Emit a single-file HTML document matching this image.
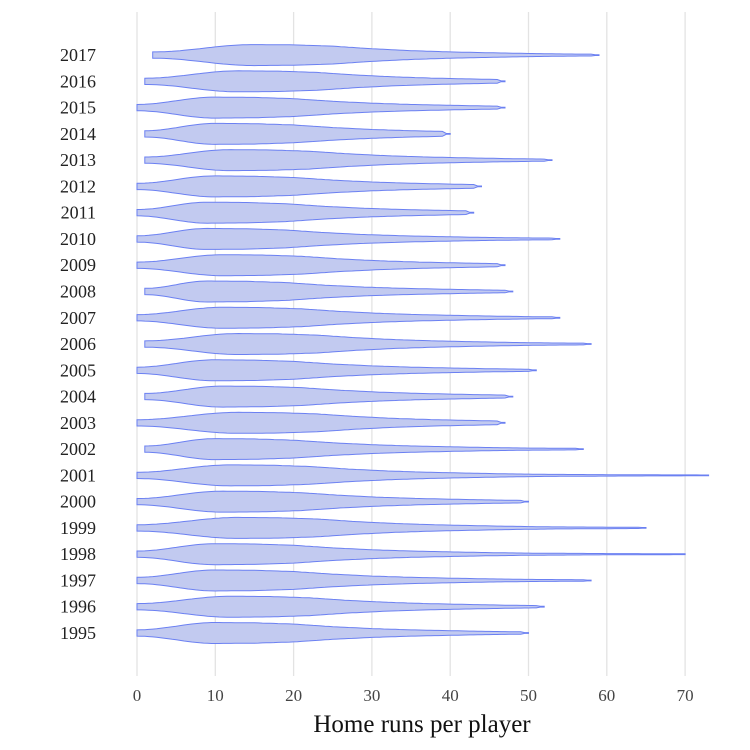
<!DOCTYPE html>
<html><head><meta charset="utf-8"><style>
body{margin:0;background:#fff}
svg{display:block;font-family:"Liberation Serif",serif}
</style></head><body>
<svg id="chart" width="750" height="750">
<g id="grid"></g><g id="violins"></g><g id="ylab"></g><g id="xlab"></g>
<text x="422" y="732" font-size="25" text-anchor="middle" fill="#111">Home runs per player</text>
</svg>
<script>
const years=[1995,1996,1997,1998,1999,2000,2001,2002,2003,2004,2005,2006,2007,2008,2009,2010,2011,2012,2013,2014,2015,2016,2017];
const mins=[0,0,0,0,0,0,0,1,0,1,0,1,0,1,0,0,0,0,1,1,0,1,2];
const maxs=[50,52,58,70,65,50,73,57,47,48,51,58,54,48,47,54,43,44,53,40,47,47,59];
const modes=[10,12,10,10,13,11,12,10,13,11,10,13,11,9,11,9,9,10,12,10,10,13,15];
const xTicks=[0,10,20,30,40,50,60,70];
const rgrid=[0,5,10,15,20,25,30,35,40,50,60,70];
const rshape=[1,0.97,0.85,0.6,0.42,0.3,0.22,0.15,0.1,0.06,0.04,0.03];
const X=v=>137+v*7.83;
const Y=i=>633-i*26.27;
const ns="http://www.w3.org/2000/svg";
function mk(t,a,p){const e=document.createElementNS(ns,t);for(const k in a)e.setAttribute(k,a[k]);p.appendChild(e);return e;}
const G=document.getElementById('grid');
xTicks.forEach(t=>{
 const l=mk('line',{x1:X(t),x2:X(t),y1:12,y2:676,stroke:'#e3e3e3','stroke-width':1.3},G);
 
 
 const tx=mk('text',{x:X(t),y:701,'font-size':17,'text-anchor':'middle',fill:'#444'},document.getElementById('xlab'));
 tx.textContent=t;
 
 
});
function dens(v,mn,mode){
 if(v<=mode){const f=(v-mn)/Math.max(1,mode-mn);return 0.3+0.7*(0.5-0.5*Math.cos(Math.PI*f));}
 const s=Math.min(70,v-mode);let k=0;while(k<rgrid.length-2&&rgrid[k+1]<s)k++;
 const f=(s-rgrid[k])/(rgrid[k+1]-rgrid[k]);
 return rshape[k]*(1-f)+rshape[k+1]*f;
}
const V=document.getElementById('violins');
years.forEach((yr,i)=>{
 const cy=Y(i),top=[],bot=[];
 for(let v=mins[i];v<=maxs[i]+0.001;v+=0.5){
  let d=dens(v,mins[i],modes[i])*10.5;
  if(v>maxs[i]-0.6)d=0.4;
  top.push(X(v).toFixed(1)+','+(cy-d).toFixed(1));
  bot.unshift(X(v).toFixed(1)+','+(cy+d).toFixed(1));
 }
 const p=mk('polygon',{points:top.concat(bot).join(' '),fill:'#c2caf0',stroke:'#6b80f2','stroke-width':1},V);
 
 
 const t=mk('text',{x:96,y:cy+6,'font-size':18,'text-anchor':'end',fill:'#222'},document.getElementById('ylab'));
 t.textContent=yr;
 
 
});
</script>
</body></html>
